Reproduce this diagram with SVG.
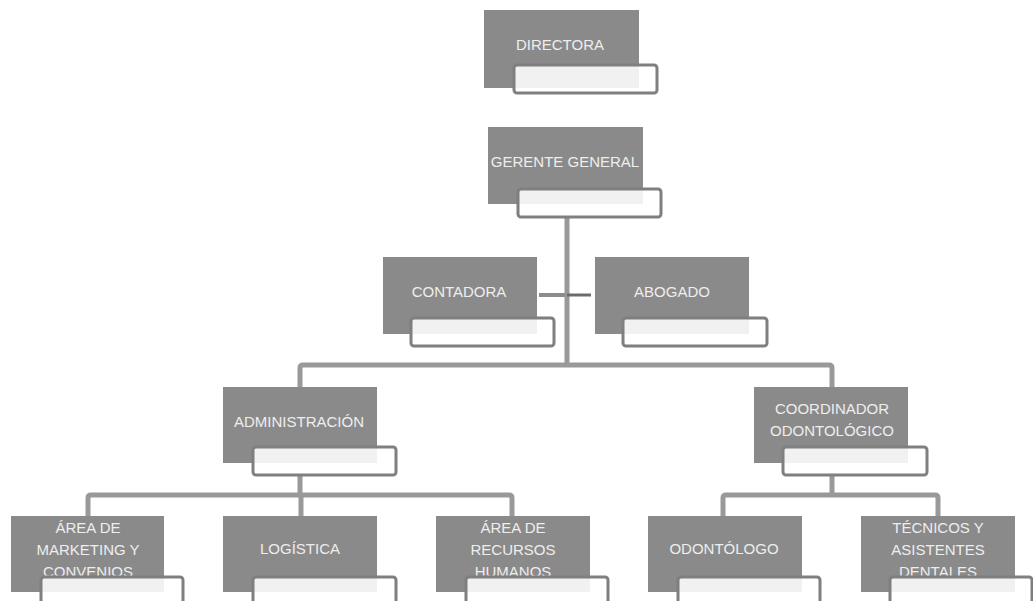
<svg xmlns="http://www.w3.org/2000/svg" width="1033" height="601" viewBox="0 0 1033 601">
<style>
.box{fill:#8a8a8a}
.tag{fill:#ffffff;fill-opacity:0.88;stroke:#7f7f7f;stroke-width:3}
.t{font-family:"Liberation Sans",Arial,sans-serif;font-size:15px;fill:#eeeeee;text-anchor:middle}
.c{fill:none;stroke:#999999;stroke-width:5;stroke-linejoin:round;stroke-linecap:butt}
</style>
<rect width="1033" height="601" fill="#ffffff"/>
<g id="connectors">
<path class="c" d="M567 218 V365"/>
<path class="c" d="M300 387 V368 Q300 365 303 365 H829 Q832 365 832 368 V387"/>
<path d="M539 295 H565" stroke="#8c8c8c" stroke-width="4"/>
<path d="M567 295 H591" stroke="#6b6b6b" stroke-width="3"/>
<path class="c" d="M300 476 V495"/>
<path class="c" d="M88 516 V498 Q88 495 91 495 H509 Q512 495 512 498 V516"/>
<path class="c" d="M301 495 V516"/>
<path class="c" d="M832 476 V495"/>
<path class="c" d="M723 516 V498 Q723 495 726 495 H935 Q938 495 938 498 V516"/>
</g>
<g id="directora">
<rect class="box" x="484" y="10" width="155" height="78"/>
<text class="t" x="560" y="50">DIRECTORA</text>
<rect class="tag" x="514" y="65" width="143" height="28" rx="3"/>
</g>
<g id="gerente">
<rect class="box" x="488" y="127" width="155" height="77"/>
<text class="t" x="565" y="167">GERENTE GENERAL</text>
<rect class="tag" x="518" y="189" width="143" height="28" rx="3"/>
</g>
<g id="contadora">
<rect class="box" x="383" y="257" width="154" height="77"/>
<text class="t" x="459" y="297">CONTADORA</text>
<rect class="tag" x="411" y="318" width="143" height="28" rx="3"/>
</g>
<g id="abogado">
<rect class="box" x="595" y="257" width="154" height="77"/>
<text class="t" x="672" y="297">ABOGADO</text>
<rect class="tag" x="623" y="318" width="144" height="28" rx="3"/>
</g>
<g id="administracion">
<rect class="box" x="223" y="387" width="154" height="76"/>
<text class="t" x="299" y="427">ADMINISTRACIÓN</text>
<rect class="tag" x="253" y="447" width="143" height="28" rx="3"/>
</g>
<g id="coordinador">
<rect class="box" x="754" y="387" width="154" height="76"/>
<text class="t" x="832" y="414">COORDINADOR</text>
<text class="t" x="832" y="436">ODONTOLÓGICO</text>
<rect class="tag" x="783" y="447" width="144" height="28" rx="3"/>
</g>
<g id="marketing">
<rect class="box" x="11" y="516" width="153" height="76"/>
<text class="t" x="88" y="533">ÁREA DE</text>
<text class="t" x="88" y="555">MARKETING Y</text>
<text class="t" x="88" y="577">CONVENIOS</text>
<rect class="tag" x="41" y="577" width="142" height="40" rx="3"/>
</g>
<g id="logistica">
<rect class="box" x="223" y="516" width="154" height="76"/>
<text class="t" x="300" y="554">LOGÍSTICA</text>
<rect class="tag" x="253" y="577" width="143" height="40" rx="3"/>
</g>
<g id="rrhh">
<rect class="box" x="436" y="516" width="154" height="76"/>
<text class="t" x="513" y="533">ÁREA DE</text>
<text class="t" x="513" y="555">RECURSOS</text>
<text class="t" x="513" y="577">HUMANOS</text>
<rect class="tag" x="466" y="577" width="142" height="40" rx="3"/>
</g>
<g id="odontologo">
<rect class="box" x="648" y="516" width="154" height="76"/>
<text class="t" x="724" y="554">ODONTÓLOGO</text>
<rect class="tag" x="678" y="577" width="142" height="40" rx="3"/>
</g>
<g id="tecnicos">
<rect class="box" x="861" y="516" width="154" height="76"/>
<text class="t" x="938" y="533">TÉCNICOS Y</text>
<text class="t" x="938" y="555">ASISTENTES</text>
<text class="t" x="938" y="577">DENTALES</text>
<rect class="tag" x="890" y="577" width="142" height="40" rx="3"/>
</g>
</svg>
